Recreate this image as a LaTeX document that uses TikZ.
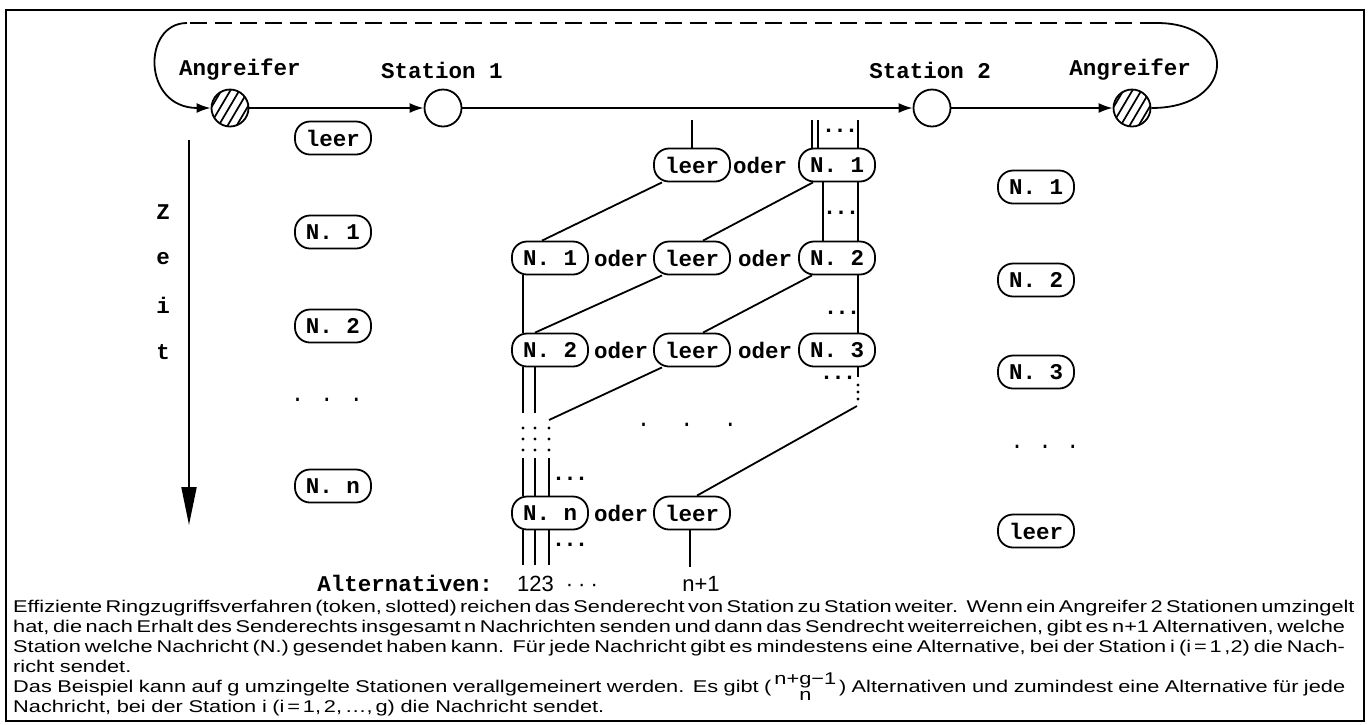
\documentclass[tikz,border=0pt]{standalone}
\usepackage{fontspec}
\setmainfont{Liberation Sans}
\newfontfamily\tw{Liberation Mono}
\newfontfamily\capfont{Liberation Sans}[FakeStretch=1.28]
\usetikzlibrary{arrows.meta}
\newcommand\mybinom{(\,\smash{\begin{tabular}[c]{@{}c@{}}n+g−1\\[-4pt]n\end{tabular}}\,)}
\newcommand\tdots{.\kern-2pt.\kern-2pt.}
\newcommand\jline[1]{\makebox[1332pt][s]{\spaceskip=0.2em plus 1fil\relax #1}}
\begin{document}
\begin{tikzpicture}[x=1pt,y=-1pt,
  tt/.style={font=\tw\bfseries\fontsize{22.5pt}{27pt}\selectfont, inner sep=0pt},
  ttr/.style={font=\tw\fontsize{22.5pt}{27pt}\selectfont, inner sep=0pt},
  pill/.style={tt, draw, line width=1.8pt, rounded corners=15pt, minimum width=76pt, minimum height=33pt},
  stn/.style={draw, circle, line width=1.8pt, minimum size=37pt, inner sep=0pt},
  ln/.style={line width=1.8pt},
  ring/.style={line width=1.8pt, -{Latex[length=14pt,width=10pt]}},
  alt/.style={font=\fontsize{22pt}{26pt}\selectfont, inner sep=0pt}]

\useasboundingbox (0,0) rectangle (1370,724);
\draw[line width=1.5pt] (6,10) rectangle (1364,721);

% hatching of attacker nodes
\foreach \cx in {230,1132}{
  \begin{scope}
    \clip (\cx,108) circle (18.5);
    \foreach \d in {-28,-19,...,28}
      \draw[line width=1.7pt] ({\cx+\d-13},130) -- ({\cx+\d+13},86);
  \end{scope}}

% ring nodes
\node[stn] (A1) at (230,108) {};
\node[stn] (S1) at (443,108) {};
\node[stn] (S2) at (932,108) {};
\node[stn] (A2) at (1132,108) {};
\node[tt] (lA1) at (240,70) {Angreifer};
\node[tt] (lS1) at (442,70) {Station 1};
\node[tt] (lS2) at (930,70) {Station 2};
\node[tt] (lA2) at (1130,70) {Angreifer};

\draw[ring] (A1) -- (S1);
\draw[ring] (S1) -- (S2);
\draw[ring] (S2) -- (A2);
\coordinate (dR) at (1157,23);
\coordinate (dL) at (187,23);
\draw[ln] (A2.east) .. controls (1238,108) and (1238,23) .. (dR);
\draw[ln, dash pattern=on 17pt off 8pt] (dR) -- (dL);
\draw[ring] (dL) .. controls (142,23) and (142,108) .. (A1.west);

% Zeit arrow
\coordinate (zt) at (189,140);
\coordinate (zb) at (189,525);
\draw[line width=2pt, -{Triangle[length=38pt,width=15pt]}] (zt) -- (zb);
\node[tt] (z1) at (163,212) {Z};
\node[tt] (z2) at (163,259) {e};
\node[tt] (z3) at (163,305) {i};
\node[tt] (z4) at (163,352) {t};

% left column (station 1 view)
\node[pill] (L0) at (333,138) {leer};
\node[pill] (L1) at (333,232) {N. 1};
\node[pill] (L2) at (333,326) {N. 2};
\node[ttr] (Ld) at (327,400) {.\hspace{16pt}.\hspace{16pt}.};
\node[pill] (Ln) at (333,486) {N. n};

% right column (station 2 view)
\node[pill] (R1) at (1036,187) {N. 1};
\node[pill] (R2) at (1036,280) {N. 2};
\node[pill] (R3) at (1036,372) {N. 3};
\node[ttr] (Rd) at (1045,447) {.\hspace{14.5pt}.\hspace{14.5pt}.};
\node[pill] (R0) at (1036,531) {leer};

% middle alternatives
\node[pill] (m1b) at (692,165) {leer};
\node[tt] (m1o) at (760,165) {oder};
\node[pill] (m1c) at (837,165) {N. 1};
\node[pill] (m2a) at (550,258) {N. 1};
\node[tt] (m2o1) at (621,258) {oder};
\node[pill] (m2b) at (692,258) {leer};
\node[tt] (m2o2) at (765,258) {oder};
\node[pill] (m2c) at (837,258) {N. 2};
\node[pill] (m3a) at (550,350) {N. 2};
\node[tt] (m3o1) at (621,350) {oder};
\node[pill] (m3b) at (692,350) {leer};
\node[tt] (m3o2) at (765,350) {oder};
\node[pill] (m3c) at (837,350) {N. 3};
\node[pill] (mna) at (550,513) {N. n};
\node[tt] (mno) at (621,513) {oder};
\node[pill] (mnb) at (692,513) {leer};

% into row 1
\coordinate (u0) at (692,120);
\coordinate (u1) at (812,120);
\coordinate (u2) at (818,120);
\coordinate (u3) at (858,120);
\draw[ln] (u0) -- (m1b.north);
\draw[ln] (u1) -- (u1 |- m1c.north);
\draw[ln] (u2) -- (u2 |- m1c.north);
\draw[ln] (u3) -- (u3 |- m1c.north);
\node[tt] (e0) at (840,131) {\tdots};

% row 1 -> row 2
\draw[ln] ([xshift=-30pt]m1b.south) -- ([xshift=-8pt]m2a.north);
\draw[ln] ([xshift=-24pt]m1c.south) -- ([xshift=11pt]m2b.north);
\draw[ln] ([xshift=-14pt]m1c.south) -- ([xshift=-14pt]m2c.north);
\draw[ln] ([xshift=21pt]m1c.south) -- ([xshift=21pt]m2c.north);
\node[tt] (e1) at (841,213) {\tdots};

% row 2 -> row 3
\draw[ln] ([xshift=-27pt]m2a.south) -- ([xshift=-27pt]m3a.north);
\draw[ln] ([xshift=-30pt]m2b.south) -- ([xshift=-15pt]m3a.north);
\draw[ln] ([xshift=-25pt]m2c.south) -- ([xshift=11pt]m3b.north);
\draw[ln] ([xshift=21pt]m2c.south) -- ([xshift=21pt]m3c.north);
\node[tt] (e2) at (842,313) {\tdots};

% row 3 -> row n
\coordinate (p1) at (523,413);
\coordinate (p2) at (535,413);
\coordinate (p3) at (549,420);
\coordinate (q1) at (523,458);
\coordinate (q2) at (535,458);
\coordinate (q3) at (549,458);
\draw[ln] ([xshift=-27pt]m3a.south) -- (p1);
\draw[ln] ([xshift=-15pt]m3a.south) -- (p2);
\draw[ln] ([xshift=-30pt]m3b.south) -- (p3);
\foreach \xx in {523,535,549}
  \foreach \yy in {428,439,450}
    \fill (\xx,\yy) circle (1.7);
\draw[ln] (q1) -- (q1 |- mna.north);
\draw[ln] (q2) -- (q2 |- mna.north);
\draw[ln] (q3) -- (q3 |- mna.north);
\node[tt] (e3) at (570,479) {\tdots};

\coordinate (v1) at (858,377);
\coordinate (v2) at (857,406);
\draw[ln] ([xshift=21pt]m3c.south) -- (v1);
\foreach \yy in {385,392,399}
  \fill (858,\yy) circle (1.7);
\draw[ln] (v2) -- ([xshift=5pt]mnb.north);
\node[tt] (e4) at (838,378) {\tdots};
\node[ttr] (md) at (687,425) {.\hspace{30pt}.\hspace{30pt}.};

% below row n
\coordinate (r1) at (523,565);
\coordinate (r2) at (535,565);
\coordinate (r3) at (549,565);
\coordinate (rb) at (690,567);
\draw[ln] (r1 |- mna.south) -- (r1);
\draw[ln] (r2 |- mna.south) -- (r2);
\draw[ln] (r3 |- mna.south) -- (r3);
\draw[ln] (rb |- mnb.south) -- (rb);
\node[tt] (e5) at (570,545) {\tdots};

% alternatives labels
\node[tt, anchor=base east] (alttxt) at (493,591) {Alternativen:};
\node[alt, anchor=base west] (altnum) at (517,591) {123\hspace{12pt}·\kern5pt·\kern5pt·};
\node[alt, anchor=base] (altn1) at (701,591) {n+1};

% caption
\node[anchor=north west, inner sep=0pt, text width=1332pt, align=left,
      font=\capfont\fontsize{17pt}{20pt}\selectfont] (cap) at (13,600) {%
\jline{Effiziente Ringzugriffsverfahren (token, slotted) reichen das Senderecht von Station zu Station weiter. Wenn ein Angreifer 2 Stationen umzingelt}\\
\jline{hat, die nach Erhalt des Senderechts insgesamt n Nachrichten senden und dann das Sendrecht weiterreichen, gibt es n+1 Alternativen, welche}\\
\jline{Station welche Nachricht (N.) gesendet haben kann. Für jede Nachricht gibt es mindestens eine Alternative, bei der Station i (i\,=\,1\,,2) die Nach-}\\
richt sendet.\\
\jline{Das Beispiel kann auf g umzingelte Stationen verallgemeinert werden. Es gibt \mybinom{} Alternativen und zumindest eine Alternative für jede}\\
Nachricht, bei der Station i (i\,=\,1,\,2,\,\dots,\,g) die Nachricht sendet.};
\end{tikzpicture}
\end{document}
